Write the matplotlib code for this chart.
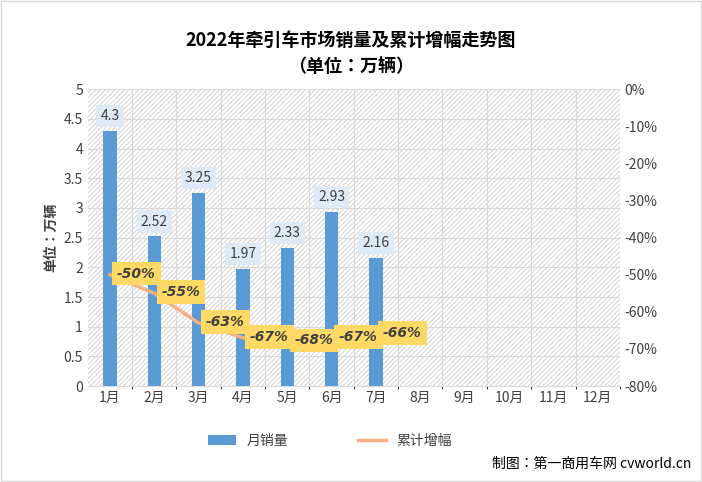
import matplotlib.pyplot as plt
from matplotlib import font_manager
import numpy as np

cjk = [f.name for f in font_manager.fontManager.ttflist if 'CJK' in f.name]
plt.rcParams['font.family'] = 'sans-serif'
plt.rcParams['font.sans-serif'] = sorted(set(cjk)) + ['DejaVu Sans']
plt.rcParams['hatch.color'] = '#d4d4d4'
plt.rcParams['hatch.linewidth'] = 0.7

months = ['1月', '2月', '3月', '4月', '5月', '6月', '7月', '8月', '9月', '10月', '11月', '12月']
sales = [4.3, 2.52, 3.25, 1.97, 2.33, 2.93, 2.16]
growth = [-50, -55, -63, -67, -68, -67, -66]
sales_labels = ['4.3', '2.52', '3.25', '1.97', '2.33', '2.93', '2.16']

fig = plt.figure(figsize=(7.02, 4.82), dpi=100)
ax = fig.add_axes([0.125, 0.199, 0.758, 0.616])
x = np.arange(len(months))
ax.set_xlim(-0.5, 11.5)
ax.set_ylim(0, 5)
ax.add_patch(plt.Rectangle((0, 0), 1, 1, transform=ax.transAxes, facecolor='white',
                           hatch='///////', edgecolor='#d4d4d4', lw=0, zorder=0))
ax.set_xticks(x + 0.5, minor=True)
ax.grid(True, which='minor', axis='x', color='#d9d9d9', lw=0.8)
ax.grid(True, which='major', axis='y', color='#d9d9d9', lw=0.8)
ax.set_axisbelow(True)
ax.bar(x[:len(sales)], sales, width=0.3, color='#5b9bd5', zorder=2, label='月销量')
for i, (v, s) in enumerate(zip(sales, sales_labels)):
    ax.text(i, v + 0.25, s, ha='center', va='center', fontsize=10, color='#404040', zorder=4,
            bbox=dict(boxstyle='square,pad=0.3', fc='#deebf7', ec='none'))
ax.set_xticks(x)
ax.set_xticklabels(months, fontsize=10, color='#404040')
ax.set_yticks(np.arange(0, 5.01, 0.5))
ax.set_yticklabels(['0', '0.5', '1', '1.5', '2', '2.5', '3', '3.5', '4', '4.5', '5'], fontsize=10, color='#404040')
ax.set_ylabel('单位：万辆', fontsize=10, fontweight='bold', color='#404040')
ax.tick_params(length=0)
for s in ax.spines.values():
    s.set_visible(False)
ax.spines['bottom'].set_visible(True)
ax.spines['bottom'].set_color('#d9d9d9')

ax2 = ax.twinx()
ax2.set_ylim(-80, 0)
ax2.plot(x[:len(growth)], growth, color='#f4b183', lw=2.5, zorder=3, label='累计增幅')
for i, g in enumerate(growth):
    ax2.text(i + 0.6, g + 0.3, f'{g}%', ha='center', va='center', fontsize=10,
             family='DejaVu Sans', fontstyle='italic', fontweight='bold', color='#404040', zorder=5,
             bbox=dict(boxstyle='square,pad=0.35', fc='#ffd966', ec='none'))
ax2.set_yticks(np.arange(-80, 1, 10))
ax2.set_yticklabels([f'{v}%' for v in range(-80, 1, 10)], fontsize=10, color='#404040')
ax2.tick_params(length=0)
for s in ax2.spines.values():
    s.set_visible(False)

fig.text(0.5, 0.905, '2022年牵引车市场销量及累计增幅走势图', ha='center', fontsize=13, fontweight='bold', color='#000000')
fig.text(0.5, 0.85, '（单位：万辆）', ha='center', fontsize=13, fontweight='bold', color='#000000')

h1, l1 = ax.get_legend_handles_labels()
h2, l2 = ax2.get_legend_handles_labels()
fig.legend(h1 + h2, l1 + l2, loc='center', bbox_to_anchor=(0.47, 0.085), ncol=2, frameon=False,
           fontsize=10, columnspacing=5, labelcolor='#404040')
fig.text(0.985, 0.03, '制图：第一商用车网 cvworld.cn', ha='right', fontsize=10, color='#000000')
fig.patches.append(plt.Rectangle((0.002, 0.002), 0.996, 0.996, transform=fig.transFigure,
                                 fill=False, ec='#d9d9d9', lw=1))
fig.savefig('out.png', dpi=100)
